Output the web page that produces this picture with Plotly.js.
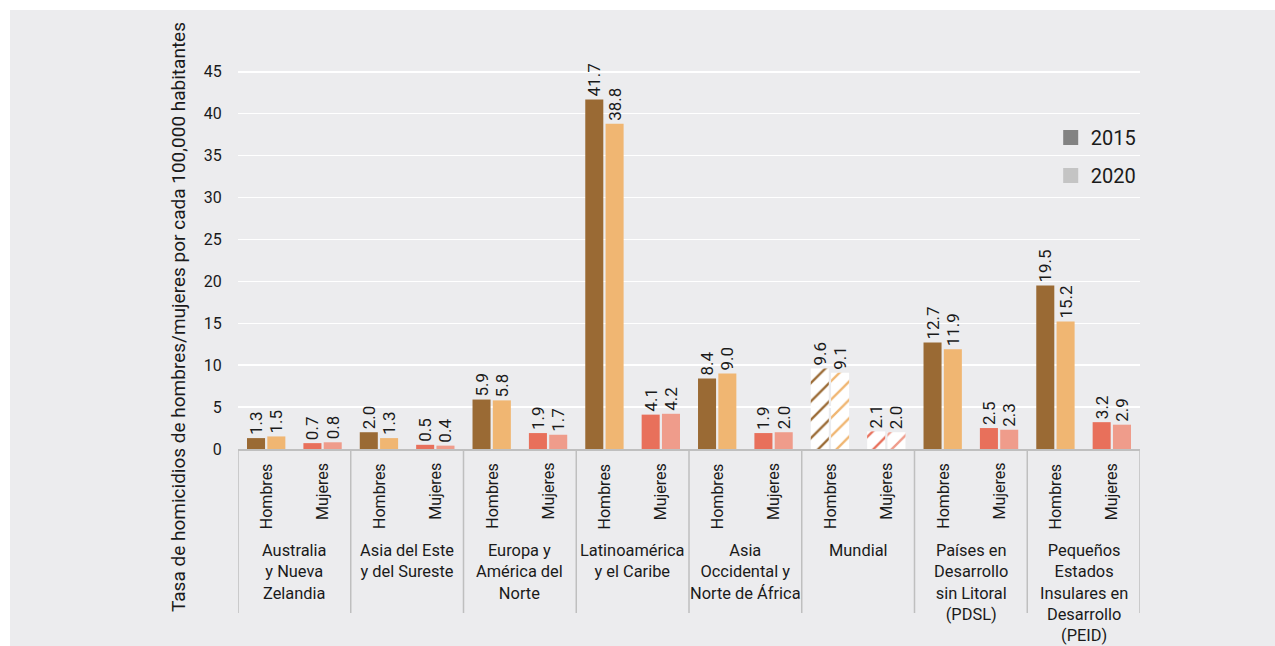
<!DOCTYPE html>
<html>
<head>
<meta charset="utf-8">
<script src="https://cdn.plot.ly/plotly-3.0.1.min.js"></script>
<style>
html,body{margin:0;padding:0;background:#ffffff;}
#chart{position:absolute;left:10px;top:10px;width:1265px;height:636px;}
</style>
</head>
<body>
<div id="chart"></div>
<script>
// ---- data ----
const groups = [
  "Australia<br>y Nueva<br>Zelandia",
  "Asia del Este<br>y del Sureste",
  "Europa y<br>América del<br>Norte",
  "Latinoamérica<br>y el Caribe",
  "Asia<br>Occidental y<br>Norte de África",
  "Mundial",
  "Países en<br>Desarrollo<br>sin Litoral<br>(PDSL)",
  "Pequeños<br>Estados<br>Insulares en<br>Desarrollo<br>(PEID)"
];
const subLabels = ["Hombres", "Mujeres"];
const hombres2015 = [1.3, 2.0, 5.9, 41.7, 8.4, 9.6, 12.7, 19.5];
const hombres2020 = [1.5, 1.3, 5.8, 38.8, 9.0, 9.1, 11.9, 15.2];
const mujeres2015 = [0.7, 0.5, 1.9, 4.1, 1.9, 2.1, 2.5, 3.2];
const mujeres2020 = [0.8, 0.4, 1.7, 4.2, 2.0, 2.0, 2.3, 2.9];
const years = ["2015", "2020"];
const yTicks = [0, 5, 10, 15, 20, 25, 30, 35, 40, 45];
const patternedGroup = "Mundial";

// ---- styling ----
const FONT = "Roboto, 'Open Sans', sans-serif";
const TXT = "#1a1a1a";
const colH15 = "#9a6a34", colH20 = "#f0b672", colM15 = "#e8705b", colM20 = "#ef9c8b";
const barW = 0.16, halfGap = 0.09;

function mkTrace(vals, subIdx, yearOff, color) {
  const xs = vals.map((v, i) => i + (subIdx === 0 ? 0.25 : 0.75) + yearOff);
  const isPat = groups.map(g => g === patternedGroup);
  return {
    type: "bar",
    x: xs, y: vals,
    width: vals.map(() => barW),
    text: vals.map(v => v.toFixed(1)),
    textposition: "outside",
    textangle: -90,
    constraintext: "none",
    cliponaxis: false,
    textfont: {family: FONT, size: 17, color: TXT},
    marker: {
      color: color,
      line: {width: 0},
      pattern: {
        shape: isPat.map(p => p ? "/" : ""),
        fgcolor: isPat.map(() => color),
        bgcolor: isPat.map(p => p ? "#ffffff" : color),
        size: 13,
        solidity: 0.18,
        fillmode: "replace"
      }
    },
    showlegend: false,
    hoverinfo: "skip"
  };
}

const traces = [
  mkTrace(hombres2015, 0, -halfGap, colH15),
  mkTrace(hombres2020, 0, halfGap, colH20),
  mkTrace(mujeres2015, 1, -halfGap, colM15),
  mkTrace(mujeres2020, 1, halfGap, colM20),
  {type: "scatter", mode: "markers", x: [null], y: [null], name: years[0], legendgroup: "a",
   marker: {color: "#828282", symbol: "square", size: 15, line: {width: 0}}, hoverinfo: "skip"},
  {type: "scatter", mode: "markers", x: [null], y: [null], name: years[1], legendgroup: "b",
   marker: {color: "#c4c4c4", symbol: "square", size: 15, line: {width: 0}}, hoverinfo: "skip"}
];

const plotH = 394, nG = groups.length;
const annotations = [];
const shapes = [];
groups.forEach((g, i) => {
  subLabels.forEach((s, j) => {
    annotations.push({
      xref: "x", yref: "paper", x: i + 0.25 + 0.5 * j, y: -12 / plotH,
      text: s, textangle: -90, showarrow: false,
      xanchor: "center", yanchor: "top",
      font: {family: FONT, size: 16, color: TXT}
    });
  });
  annotations.push({
    xref: "x", yref: "paper", x: i + 0.5, y: -90 / plotH,
    text: g, showarrow: false, xanchor: "center", yanchor: "top",
    font: {family: FONT, size: 16.4, color: TXT}
  });
});
for (let i = 0; i <= nG; i++) {
  shapes.push({
    type: "line", xref: "x", yref: "paper", x0: i, x1: i, y0: 0, y1: -164 / plotH,
    line: {color: "#bfbfbf", width: 1.5}
  });
}
annotations.push({
  xref: "paper", yref: "paper", x: -60 / 902, y: 132 / plotH,
  text: "Tasa de homicidios de hombres/mujeres por cada 100,000 habitantes",
  textangle: -90, showarrow: false, xanchor: "center", yanchor: "middle",
  font: {family: FONT, size: 19, color: TXT}
});

const layout = {
  width: 1265, height: 636,
  margin: {l: 228, r: 135, t: 45, b: 197},
  paper_bgcolor: "#ececee",
  plot_bgcolor: "#ececee",
  barmode: "overlay",
  font: {family: FONT, color: TXT},
  xaxis: {
    range: [0, nG], showgrid: false, zeroline: false, showticklabels: false,
    ticks: "", showline: true, linecolor: "#bfbfbf", linewidth: 1.5, fixedrange: true
  },
  yaxis: {
    range: [0, 47], tickvals: yTicks, ticktext: yTicks.map(String),
    showgrid: true, gridcolor: "#ffffff", gridwidth: 1.5, zeroline: false,
    ticks: "outside", ticklen: 12, tickcolor: "rgba(0,0,0,0)",
    tickfont: {family: FONT, size: 16, color: TXT}, showline: false, fixedrange: true
  },
  legend: {
    x: 0.901, y: 0.84, xanchor: "left", yanchor: "top",
    bgcolor: "rgba(0,0,0,0)", font: {family: FONT, size: 20, color: TXT},
    traceorder: "grouped", tracegroupgap: 9
  },
  annotations: annotations,
  shapes: shapes
};

Plotly.newPlot("chart", traces, layout, {displayModeBar: false, staticPlot: true});
</script>
</body>
</html>
